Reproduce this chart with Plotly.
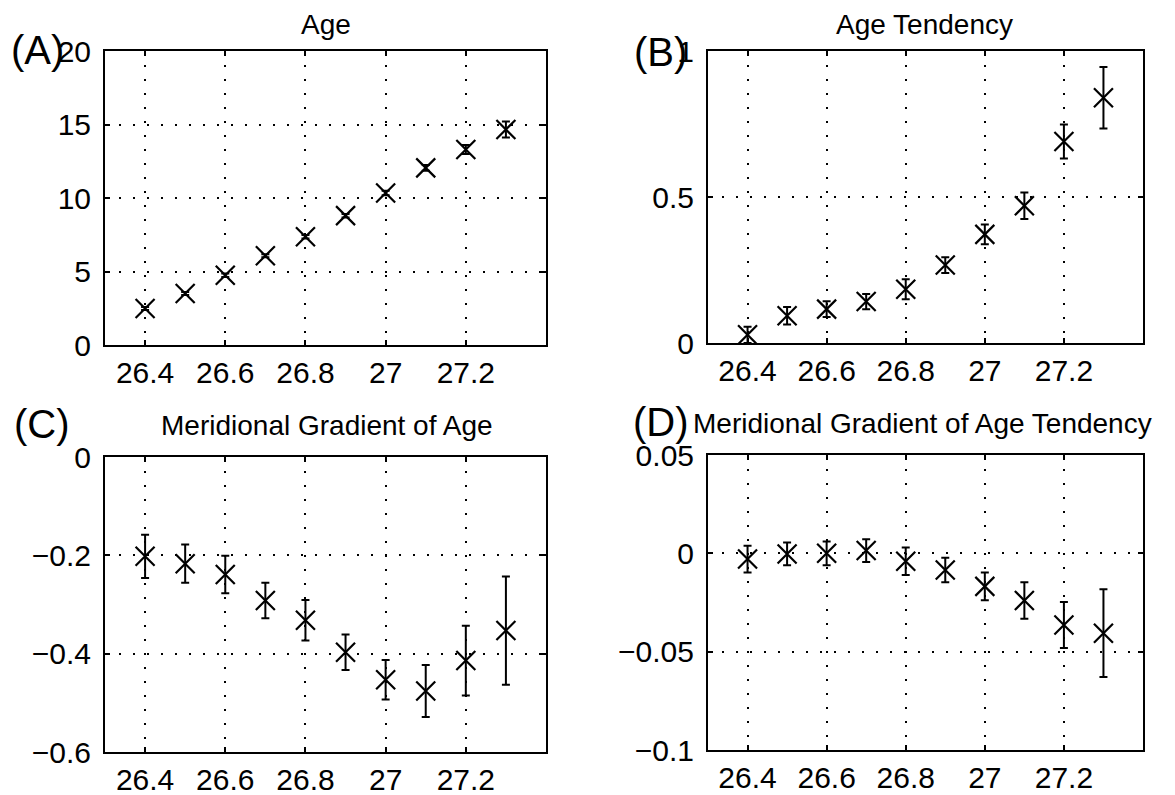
import plotly.graph_objects as go

# page body has an 8px margin; figure is sized so that it fills the 1175x795 window exactly
OFF = 8
W, H = 1175 - OFF, 795 - OFF

# ---- data ----
sigma = [26.4, 26.5, 26.6, 26.7, 26.8, 26.9, 27.0, 27.1, 27.2, 27.3]

age = [2.48, 3.5, 4.75, 6.07, 7.36, 8.8, 10.34, 12.05, 13.3, 14.66]
age_err = [0.1, 0.1, 0.12, 0.1, 0.12, 0.12, 0.15, 0.2, 0.3, 0.55]

tend = [0.028, 0.093, 0.116, 0.142, 0.184, 0.267, 0.372, 0.47, 0.69, 0.84]
tend_err = [0.028, 0.03, 0.027, 0.026, 0.034, 0.027, 0.034, 0.045, 0.058, 0.105]

grad_age = [-0.202, -0.217, -0.239, -0.292, -0.332, -0.397, -0.453, -0.476, -0.414, -0.353]
grad_age_err = [0.044, 0.039, 0.038, 0.036, 0.041, 0.036, 0.040, 0.053, 0.071, 0.11]

grad_tend = [-0.0029, -0.0003, 0.0, 0.0014, -0.004, -0.0085, -0.0168, -0.024, -0.0364, -0.0406]
grad_tend_err = [0.0068, 0.0058, 0.006, 0.0058, 0.007, 0.0062, 0.007, 0.0093, 0.0117, 0.0223]

x_tickvals = [26.4, 26.6, 26.8, 27.0, 27.2]
x_ticktext = ["26.4", "26.6", "26.8", "27", "27.2"]

titles = ["Age", "Age Tendency", "Meridional Gradient of Age",
          "Meridional Gradient of Age Tendency"]
panel_labels = ["(A)", "(B)", "(C)", "(D)"]

y_tickvals = [[0, 5, 10, 15, 20], [0, 0.5, 1], [-0.6, -0.4, -0.2, 0], [-0.1, -0.05, 0, 0.05]]
y_ticktext = [["0", "5", "10", "15", "20"], ["0", "0.5", "1"],
              ["\u22120.6", "\u22120.4", "\u22120.2", "0"],
              ["\u22120.1", "\u22120.05", "0", "0.05"]]
y_ranges = [[0, 20], [0, 1], [-0.6, 0], [-0.1, 0.05]]

series = [(age, age_err), (tend, tend_err), (grad_age, grad_age_err), (grad_tend, grad_tend_err)]

# ---- layout geometry (window pixels) ----
boxes = [  # left, right, top, bottom
    (105, 546, 51, 345),
    (708, 1143, 51, 343),
    (105, 546, 457, 752),
    (708, 1143, 455, 750),
]
# (x centre, y, yanchor)
title_pos = [(326, 8, "top"), (924, 8, "top"), (327, 425, "middle"), (922, 423, "middle")]
label_pos = [(37, 50), (660, 52), (42, 424), (661, 422)]

FONT = "Liberation Sans, Arial, Helvetica, sans-serif"


def px(x):
    return (x - OFF) / W


def py(y):
    return 1 - (y - OFF) / H


fig = go.Figure()
layout = dict(
    width=W, height=H, margin=dict(l=0, r=0, t=0, b=0, pad=0),
    paper_bgcolor="white", plot_bgcolor="white", showlegend=False,
    font=dict(family=FONT, color="black"),
)

annotations = []
for i, ((yv, ye), (l, r, t, b)) in enumerate(zip(series, boxes)):
    n = "" if i == 0 else str(i + 1)
    fig.add_trace(go.Scatter(
        x=sigma, y=yv, mode="markers",
        xaxis="x" + n, yaxis="y" + n,
        marker=dict(symbol="x-thin", size=19, color="black",
                    line=dict(color="black", width=2.2)),
        error_y=dict(type="data", array=ye, visible=True,
                     color="black", thickness=2, width=4),
    ))
    common = dict(
        showline=True, linecolor="black", linewidth=2, mirror="ticks",
        ticks="inside", ticklen=5, tickwidth=1.5, tickcolor="black",
        showgrid=True, gridcolor="black", gridwidth=1.5, griddash="2px,12px",
        zeroline=False, automargin=False,
        tickfont=dict(family=FONT, size=30, color="black"),
    )
    layout["xaxis" + n] = dict(
        domain=[px(l), px(r)], anchor="y" + n, range=[26.3, 27.4],
        tickmode="array", tickvals=x_tickvals, ticktext=x_ticktext,
        ticklabelstandoff=0, **common)
    layout["yaxis" + n] = dict(
        domain=[py(b), py(t)], anchor="x" + n, range=y_ranges[i],
        tickmode="array", tickvals=y_tickvals[i], ticktext=y_ticktext[i],
        ticklabelstandoff=6, **common)
    tx, ty, ya = title_pos[i]
    annotations.append(dict(text=titles[i], x=px(tx), y=py(ty), xref="paper", yref="paper",
                            showarrow=False, xanchor="center", yanchor=ya, borderpad=0,
                            font=dict(family=FONT, size=28, color="black")))
    lx, ly = label_pos[i]
    annotations.append(dict(text=panel_labels[i], x=px(lx), y=py(ly), xref="paper", yref="paper",
                            showarrow=False, xanchor="center", yanchor="middle",
                            font=dict(family=FONT, size=40, color="black")))

layout["annotations"] = annotations
fig.update_layout(**layout)
fig.write_html("out.html")
